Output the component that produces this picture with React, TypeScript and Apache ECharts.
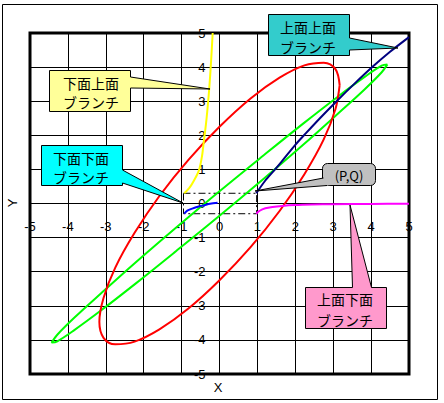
import React, { useEffect, useRef } from "react";
import * as echarts from "echarts";

// Axis ticks
const xTicks = [-5, -4, -3, -2, -1, 0, 1, 2, 3, 4, 5];
const yTicks = [-5, -4, -3, -2, -1, 0, 1, 2, 3, 4, 5];

// Red ellipse
const redPts: number[][] = [
  [3.17, 3.47], [3.06, 2.77], [2.75, 1.88], [2.24, 0.86], [1.585, -0.22], [0.82, -1.28],
  [0, -2.25], [-0.82, -3.08], [-1.585, -3.69], [-2.24, -4.05], [-2.75, -4.13], [-3.06, -3.94],
  [-3.17, -3.47], [-3.06, -2.77], [-2.75, -1.88], [-2.24, -0.86], [-1.585, 0.22], [-0.82, 1.28],
  [0, 2.25], [0.82, 3.08], [1.585, 3.69], [2.24, 4.05], [2.75, 4.13], [3.06, 3.94], [3.17, 3.47],
];

// Green thin loop
const greenPts: number[][] = [
  [4.43, 4.08], [4.28, 3.85], [3.84, 3.36], [3.13, 2.64], [2.215, 1.73], [1.15, 0.71],
  [0, -0.36], [-1.15, -1.4], [-2.215, -2.35], [-3.13, -3.14], [-3.84, -3.72], [-4.28, -4.04],
  [-4.43, -4.08], [-4.28, -3.85], [-3.84, -3.36], [-3.13, -2.64], [-2.215, -1.73], [-1.15, -0.71],
  [0, 0.36], [1.15, 1.4], [2.215, 2.35], [3.13, 3.14], [3.84, 3.72], [4.28, 4.04], [4.43, 4.08],
];

// 下面上面ブランチ (yellow)
const yellowPts: number[][] = [
  [-0.93, 0.3], [-0.8, 0.45], [-0.68, 0.66], [-0.54, 0.98], [-0.46, 1.4], [-0.41, 1.86],
  [-0.36, 2.3], [-0.32, 2.74], [-0.27, 3.38], [-0.22, 4.21], [-0.18, 5.0],
];

// 下面下面ブランチ (blue)
const bluePts: number[][] = [
  [-0.93, -0.3], [-0.85, -0.21], [-0.72, -0.15], [-0.55, -0.09], [-0.4, -0.05],
  [-0.25, -0.01], [-0.05, 0.02],
];

// 上面上面ブランチ (navy)
const navyPts: number[][] = [
  [0.97, 0.3], [1.2, 0.66], [1.45, 0.98], [1.64, 1.23], [2.0, 1.72], [2.23, 2.0],
  [2.65, 2.5], [3.09, 3.0], [3.55, 3.5], [4.03, 4.0], [4.5, 4.45], [5.0, 4.88],
];

// 上面下面ブランチ (magenta)
const magentaPts: number[][] = [
  [0.97, -0.3], [1.05, -0.22], [1.21, -0.14], [1.4, -0.1], [1.65, -0.07], [2.0, -0.045],
  [2.44, -0.03], [3.0, -0.02], [4.0, -0.012], [5.0, -0.01],
];

// Dash-dot box (P,Q)
const boxPts: number[][] = [
  [-0.95, 0.3], [0.98, 0.3], [0.98, -0.3], [-0.95, -0.3], [-0.95, 0.3],
];

const FONT_NUM = '"Liberation Sans", Arial, sans-serif';
const FONT_JP = '"Noto Sans CJK JP", sans-serif';

const GRID_LEFT = 30;
const GRID_TOP = 33;
const GRID_W = 379;
const GRID_H = 341;

function lineSeries(data: number[][], color: string, smooth: number | boolean, extra: any = {}) {
  return {
    type: "line",
    data,
    showSymbol: false,
    symbol: "none",
    smooth,
    lineStyle: { color, width: 2 },
    silent: true,
    ...extra,
  };
}

function jpText(text: string, x: number, y: number, size = 14) {
  return {
    type: "text",
    z: 102,
    style: {
      text,
      x,
      y,
      fontSize: size,
      fontFamily: FONT_JP,
      fill: "#000",
      align: "center",
      verticalAlign: "middle",
    },
  };
}

function calloutPoly(points: number[][], fill: string) {
  return {
    type: "polygon",
    z: 100,
    shape: { points },
    style: { fill, stroke: "#000", lineWidth: 1 },
  };
}

export default function App() {
  const ref = useRef<HTMLDivElement>(null);
  useEffect(() => {
    if (!ref.current) return;
    const chart = echarts.init(ref.current, undefined, { renderer: "svg" });
    const axisCommon = {
      type: "value",
      min: -5,
      max: 5,
      interval: 1,
      axisLine: { show: true, onZero: false, lineStyle: { color: "#000", width: 1 } },
      axisTick: { show: false },
      splitLine: { show: true, lineStyle: { color: "#000", width: 1 } },
    };
    // place the axes through the origin (centre of the symmetric range)
    const xOffset = -GRID_H / 2;
    const yOffset = -GRID_W / 2;
    chart.setOption({
      animation: false,
      backgroundColor: "#fff",
      grid: {
        left: GRID_LEFT,
        top: GRID_TOP,
        width: GRID_W,
        height: GRID_H,
        show: true,
        borderColor: "#000",
        borderWidth: 3,
        backgroundColor: "transparent",
        outerBoundsMode: "none",
        containLabel: false,
      },
      xAxis: {
        ...axisCommon,
        position: "bottom",
        offset: xOffset,
        axisLabel: {
          color: "#000",
          fontSize: 13,
          fontFamily: FONT_NUM,
          margin: 16,
          showMinLabel: true,
          showMaxLabel: true,
          formatter: (v: number) => (xTicks.includes(v) ? String(v) : ""),
        },
      },
      yAxis: {
        ...axisCommon,
        position: "left",
        offset: yOffset,
        axisLabel: {
          color: "#000",
          fontSize: 13,
          fontFamily: FONT_NUM,
          margin: 14,
          showMinLabel: true,
          showMaxLabel: true,
          formatter: (v: number) => (yTicks.includes(v) ? String(v) : ""),
        },
      },
      series: [
        lineSeries(boxPts, "#000", false, {
          lineStyle: { color: "#000", width: 1, type: [7, 3, 2, 3] },
        }),
        lineSeries(greenPts, "#00ff00", 0.35),
        lineSeries(redPts, "#ff0000", 0.35),
        lineSeries(yellowPts, "#ffff00", 0.3),
        lineSeries(bluePts, "#0000ff", 0.3),
        lineSeries(magentaPts, "#ff00ff", 0.3),
        lineSeries(navyPts, "#000080", 0.3),
      ],
      graphic: [
        {
          type: "rect",
          z: 99,
          shape: { x: 2.5, y: 4.5, width: 435, height: 395 },
          style: { fill: "none", stroke: "#000", lineWidth: 1 },
        },
        { type: "text", z: 101, style: { text: "X", x: 218, y: 387, fontSize: 13, fontFamily: FONT_NUM, fill: "#000", align: "center", verticalAlign: "middle" } },
        { type: "text", z: 101, x: 12, y: 203, rotation: Math.PI / 2, style: { text: "Y", x: 0, y: 0, fontSize: 13, fontFamily: FONT_NUM, fill: "#000", align: "center", verticalAlign: "middle" } },
        // 下面上面ブランチ (yellow)
        calloutPoly([[49.5, 70.5], [130.5, 70.5], [130.5, 77], [210, 89], [130.5, 88], [130.5, 111.5], [49.5, 111.5]], "#ffff99"),
        jpText("下面上面", 91, 83),
        jpText("ブランチ", 91, 101.5),
        // 下面下面ブランチ (cyan)
        calloutPoly([[41.5, 145.5], [122.5, 145.5], [122.5, 170], [183, 203], [122.5, 183], [122.5, 185.5], [41.5, 185.5]], "#00ffff"),
        jpText("下面下面", 81, 158),
        jpText("ブランチ", 81, 177),
        // 上面上面ブランチ (teal)
        calloutPoly([[268.5, 14.5], [349.5, 14.5], [349.5, 38], [398, 48], [349.5, 50], [349.5, 55.5], [268.5, 55.5]], "#33cccc"),
        jpText("上面上面", 308, 27),
        jpText("ブランチ", 308, 46.5),
        // 上面下面ブランチ (pink)
        calloutPoly([[305.5, 287.5], [352.5, 287.5], [350, 205], [371.5, 287.5], [386.5, 287.5], [386.5, 328.5], [305.5, 328.5]], "#ff99cc"),
        jpText("上面下面", 345, 299),
        jpText("ブランチ", 345, 319.5),
        // (P,Q) gray rounded callout
        {
          type: "rect",
          z: 100,
          shape: { x: 322.5, y: 163.5, width: 53, height: 22, r: 5 },
          style: { fill: "#c0c0c0", stroke: "#000", lineWidth: 1 },
        },
        {
          type: "polygon",
          z: 101,
          shape: { points: [[255, 191], [323.5, 178], [331, 178], [331, 185], [327, 185.5]] },
          style: { fill: "#c0c0c0", stroke: "none" },
        },
        {
          type: "polyline",
          z: 101,
          shape: { points: [[323.5, 178], [255, 191], [327, 185.5]] },
          style: { fill: "none", stroke: "#000", lineWidth: 1 },
        },
        jpText("(P,Q)", 349, 175, 13),
      ],
    });
    return () => chart.dispose();
  }, []);
  return (
    <div
      ref={ref}
      style={{ position: "fixed", left: 0, top: 0, width: 444, height: 403, background: "#fff" }}
    />
  );
}
